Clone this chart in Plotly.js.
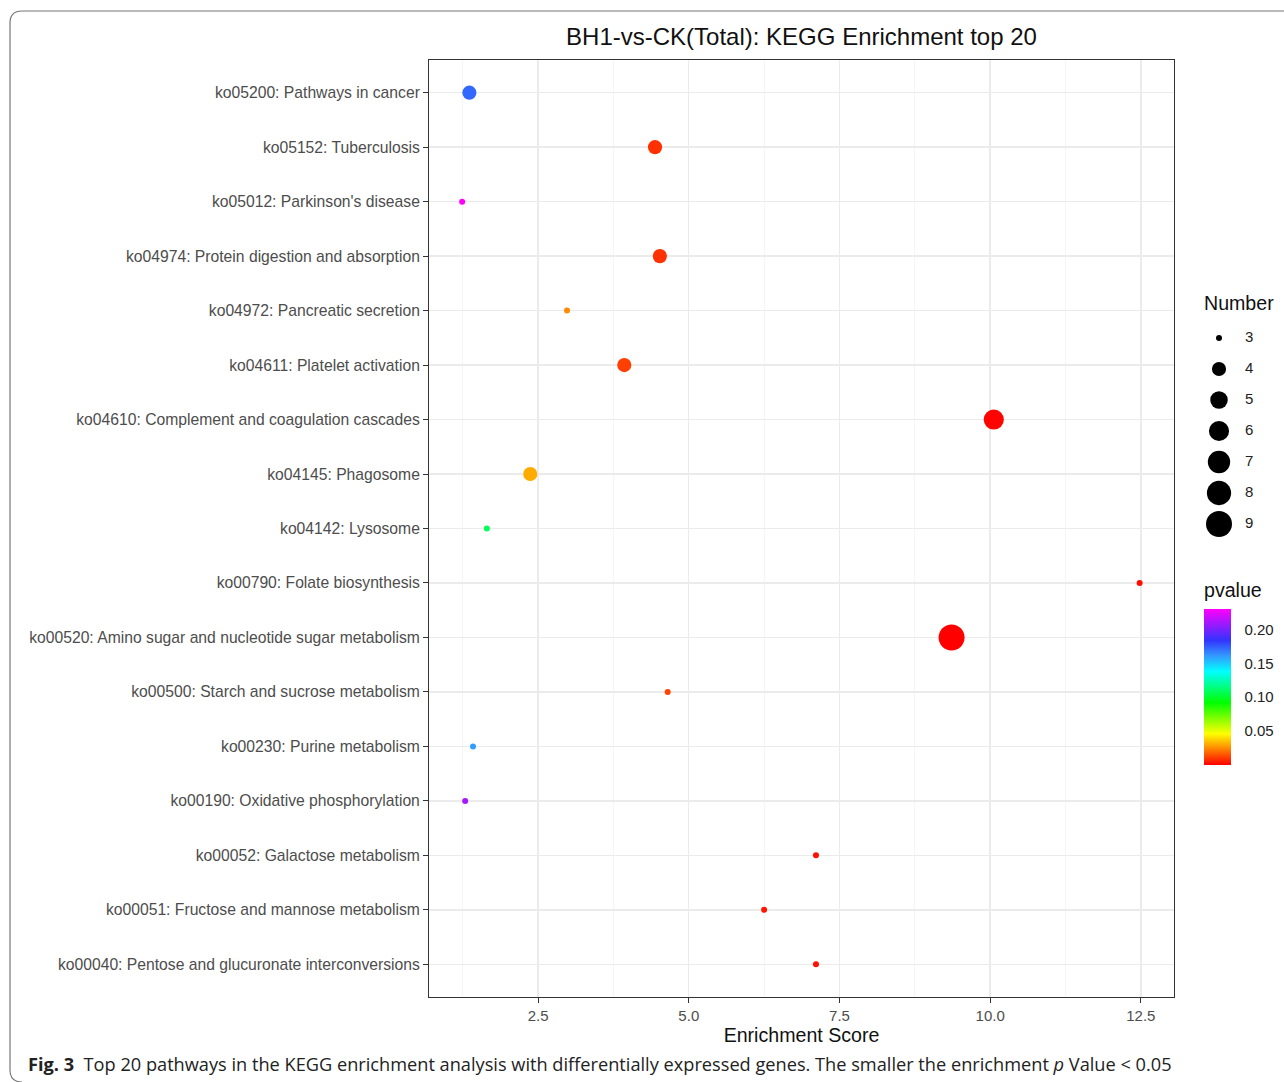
<!DOCTYPE html>
<html>
<head>
<meta charset="utf-8">
<script src="https://cdn.plot.ly/plotly-3.0.1.min.js"></script>
<style>html,body{margin:0;padding:0;background:#fff;}#chart{width:1284px;height:1082px;}</style>
</head>
<body>
<div id="chart"></div>
<script>
// ---- data ----
const pathways = [
  "ko05200: Pathways in cancer",
  "ko05152: Tuberculosis",
  "ko05012: Parkinson's disease",
  "ko04974: Protein digestion and absorption",
  "ko04972: Pancreatic secretion",
  "ko04611: Platelet activation",
  "ko04610: Complement and coagulation cascades",
  "ko04145: Phagosome",
  "ko04142: Lysosome",
  "ko00790: Folate biosynthesis",
  "ko00520: Amino sugar and nucleotide sugar metabolism",
  "ko00500: Starch and sucrose metabolism",
  "ko00230: Purine metabolism",
  "ko00190: Oxidative phosphorylation",
  "ko00052: Galactose metabolism",
  "ko00051: Fructose and mannose metabolism",
  "ko00040: Pentose and glucuronate interconversions"
];
const enrichmentScore = [1.36, 4.44, 1.24, 4.52, 2.98, 3.93, 10.06, 2.37, 1.65, 12.48, 9.36, 4.65, 1.42, 1.29, 7.11, 6.25, 7.11];
const geneNumber      = [4, 4, 3, 4, 3, 4, 6, 4, 3, 3, 9, 3, 3, 3, 3, 3, 3];
const pvalue          = [0.172, 0.009, 0.23, 0.009, 0.025, 0.0115, 0.0006, 0.031, 0.108, 0.002, 0.0001, 0.012, 0.16, 0.21, 0.003, 0.004, 0.003];
const sizeLegendValues = [3, 4, 5, 6, 7, 8, 9];
const xTickValues = [2.5, 5.0, 7.5, 10.0, 12.5];
const xTickLabels = ["2.5", "5.0", "7.5", "10.0", "12.5"];
const pTickValues = [0.05, 0.10, 0.15, 0.20];
const pTickLabels = ["0.05", "0.10", "0.15", "0.20"];

// ---- styling helpers ----
const W = 1284, H = 1082;
const M = {l: 429, r: 0, t: 60, b: 85};
const paperW = W - M.l - M.r, paperH = H - M.t - M.b;
const px = x => (x - M.l) / paperW;          // pixel x -> paper
const py = y => (H - M.b - y) / paperH;       // pixel y -> paper

const nMin = Math.min(...geneNumber), nMax = Math.max(...geneNumber);
const diam = n => 6 + 20 * Math.sqrt((n - nMin) / (nMax - nMin));

const rainbow = [[0, '#FF0000'], [0.2, '#FFFF00'], [0.4, '#00FF00'], [0.6, '#00FFFF'], [0.7, '#3399FF'], [0.8, '#3333FF'], [1, '#FF00FF']];
const pMin = Math.min(...pvalue), pMax = Math.max(...pvalue);

const font = "Liberation Sans, Arial, sans-serif";
const bottomUp = pathways.slice().reverse();

const main = {
  type: 'scatter', mode: 'markers',
  x: enrichmentScore, y: pathways,
  xaxis: 'x', yaxis: 'y',
  showlegend: false, hoverinfo: 'x+y',
  marker: {
    size: geneNumber.map(diam),
    color: pvalue, colorscale: rainbow, cmin: pMin, cmax: pMax,
    line: {width: 0}, opacity: 1,
    showscale: true,
    colorbar: {
      x: px(1204), xanchor: 'left', xpad: 0,
      y: py(687), yanchor: 'middle', ypad: 0,
      thickness: 27, thicknessmode: 'pixels',
      len: 156, lenmode: 'pixels',
      outlinewidth: 0,
      tickmode: 'array', tickvals: pTickValues, ticktext: pTickLabels,
      ticks: 'outside', ticklen: 11, tickcolor: 'rgba(0,0,0,0)', tickwidth: 1,
      tickfont: {family: font, size: 15, color: '#222'}
    }
  }
};

const sizeDots = {
  type: 'scatter', mode: 'markers',
  x: sizeLegendValues.map(() => 24), y: sizeLegendValues,
  xaxis: 'x2', yaxis: 'y2', showlegend: false, hoverinfo: 'skip',
  marker: {size: sizeLegendValues.map(diam), color: '#000000', opacity: 1, line: {width: 0}}
};
const sizeText = {
  type: 'scatter', mode: 'text',
  x: sizeLegendValues.map(() => 50), y: sizeLegendValues,
  text: sizeLegendValues.map(String), textposition: 'middle right',
  xaxis: 'x2', yaxis: 'y2', showlegend: false, hoverinfo: 'skip',
  textfont: {family: font, size: 15, color: '#222'}
};

// y2 mapping: domain [0.45,0.75]; 31 px per unit, value 3 at py 338
const y2top = H - M.b - 0.75 * paperH;
const y2span = 0.30 * paperH / 31;
const y2hi = 3 - (338 - y2top) / 31;
const y2lo = y2hi + y2span;

const framePath = 'M ' + px(1290) + ',' + py(11) + ' L ' + px(22) + ',' + py(11) +
  ' Q ' + px(10) + ',' + py(11) + ' ' + px(10) + ',' + py(23) +
  ' L ' + px(10) + ',' + py(1070) +
  ' Q ' + px(10) + ',' + py(1082) + ' ' + px(22) + ',' + py(1082);

const layout = {
  width: W, height: H,
  margin: M,
  paper_bgcolor: '#fff', plot_bgcolor: '#fff',
  font: {family: font, color: '#222'},
  title: {
    text: 'BH1-vs-CK(Total): KEGG Enrichment top 20',
    font: {family: font, size: 24, color: '#111'},
    xref: 'paper', x: px(801.5), xanchor: 'center',
    yref: 'container', y: 1 - 37 / H, yanchor: 'middle'
  },
  xaxis: {
    domain: [0, px(1174)], anchor: 'y',
    range: [0.69, 13.05],
    tickmode: 'array', tickvals: xTickValues, ticktext: xTickLabels,
    ticks: 'outside', ticklen: 5, tickcolor: '#333', tickwidth: 1,
    tickfont: {family: font, size: 15, color: '#4d4d4d'},
    showgrid: true, gridcolor: '#ebebeb', gridwidth: 1.4,
    minor: {tickmode: 'array', tickvals: [1.25, 3.75, 6.25, 8.75, 11.25], showgrid: true, gridcolor: '#f2f2f2', gridwidth: 0.8, ticks: ''},
    zeroline: false,
    showline: true, linecolor: '#333', linewidth: 1, mirror: true,
    title: {text: 'Enrichment Score', font: {family: font, size: 19.6, color: '#111'}, standoff: 5}
  },
  yaxis: {
    domain: [0, 1], anchor: 'x',
    type: 'category', categoryorder: 'array', categoryarray: bottomUp,
    range: [-0.6, bottomUp.length - 0.4],
    ticks: 'outside', ticklen: 5, tickcolor: '#333', tickwidth: 1,
    tickfont: {family: font, size: 15.7, color: '#4d4d4d'},
    showgrid: true, gridcolor: '#ebebeb', gridwidth: 1.4,
    zeroline: false,
    showline: true, linecolor: '#333', linewidth: 1, mirror: true,
    automargin: false
  },
  xaxis2: {
    domain: [px(1195), 1], anchor: 'y2', range: [0, 89],
    visible: false, fixedrange: true
  },
  yaxis2: {
    domain: [0.45, 0.75], anchor: 'x2', range: [y2lo, y2hi],
    visible: false, fixedrange: true
  },
  annotations: [
    {text: 'Number', xref: 'paper', yref: 'paper', x: px(1202), y: py(303),
     xanchor: 'left', yanchor: 'middle', showarrow: false,
     font: {family: font, size: 19.6, color: '#111'}},
    {text: 'pvalue', xref: 'paper', yref: 'paper', x: px(1202), y: py(590),
     xanchor: 'left', yanchor: 'middle', showarrow: false,
     font: {family: font, size: 19.6, color: '#111'}},
    {text: '<b>Fig. 3</b>  Top 20 pathways in the KEGG enrichment analysis with differentially expressed genes. The smaller the enrichment <i>p</i> Value &lt; 0.05',
     xref: 'paper', yref: 'paper', x: px(26), y: py(1064),
     xanchor: 'left', yanchor: 'middle', showarrow: false,
     font: {family: "Open Sans, sans-serif", size: 18.2, color: '#222'}}
  ],
  shapes: [
    {type: 'path', xref: 'paper', yref: 'paper', path: framePath,
     line: {color: '#777', width: 1.2}, layer: 'below'}
  ],
  showlegend: false
};

Plotly.newPlot('chart', [main, sizeDots, sizeText], layout, {displayModeBar: false, staticPlot: true});
</script>
</body>
</html>
